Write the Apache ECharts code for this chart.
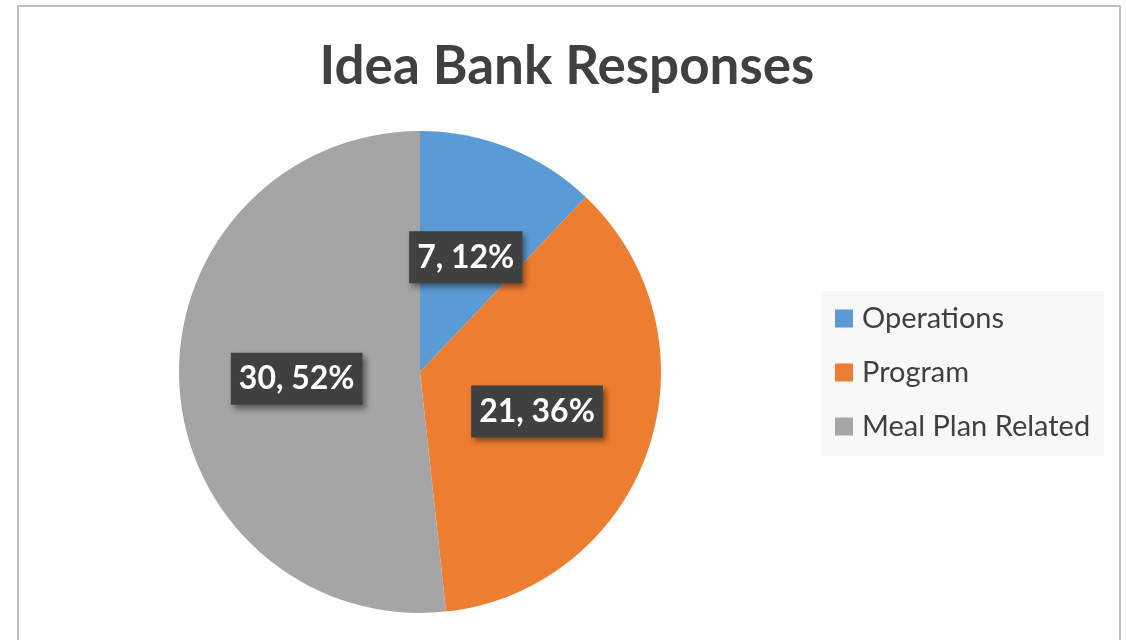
<!DOCTYPE html>
<html>
<head>
<meta charset="utf-8">
<script src="https://cdn.jsdelivr.net/npm/echarts@6/dist/echarts.min.js"></script>
<style>
html,body{margin:0;padding:0;background:#fff;}
#chart{width:1126px;height:640px;}
</style>
</head>
<body>
<div id="chart"></div>
<script>
const titleText = 'Idea Bank Responses';
const categories = ['Operations', 'Program', 'Meal Plan Related'];
const values = [7, 21, 30];
const colors = ['#5b9bd5', '#ed7d31', '#a5a5a5'];

const chart = echarts.init(document.getElementById('chart'), null, {renderer: 'canvas'});
const data = categories.map((c, i) => ({name: c, value: values[i], itemStyle: {color: colors[i]}}));

chart.setOption({
  animation: false,
  backgroundColor: '#ffffff',
  title: {
    text: titleText,
    left: 562,
    textAlign: 'center',
    top: 35,
    textStyle: {fontFamily: 'Lato', fontWeight: 'bold', fontSize: 53, color: '#404040'}
  },
  legend: {
    orient: 'vertical',
    left: 821,
    top: 291,
    padding: [13, 14, 15, 14],
    backgroundColor: '#f8f8f8',
    itemWidth: 18,
    itemHeight: 18,
    itemGap: 25,
    icon: 'rect',
    selectedMode: false,
    data: categories,
    textStyle: {fontFamily: 'Lato', fontSize: 29, lineHeight: 29, color: '#404040', padding: [0, 0, 0, 4]}
  },
  graphic: [{
    type: 'rect',
    shape: {x: 18, y: 6, width: 1102, height: 700},
    style: {fill: 'none', stroke: '#bfbfbf', lineWidth: 2},
    silent: true,
    z: -1
  }],
  series: [{
    type: 'pie',
    center: [420, 372],
    radius: 241,
    startAngle: 90,
    clockwise: true,
    percentPrecision: 0,
    silent: true,
    avoidLabelOverlap: false,
    itemStyle: {borderWidth: 0},
    labelLine: {show: false},
    label: {
      show: true,
      position: 'inside',
      formatter: '{c}, {d}%',
      fontFamily: 'Lato',
      fontWeight: 'bold',
      fontSize: 32,
      lineHeight: 34,
      color: '#ffffff',
      backgroundColor: '#404040',
      padding: [9, 8, 9, 8],
      shadowColor: 'rgba(0,0,0,0.45)',
      shadowBlur: 6,
      shadowOffsetX: 3,
      shadowOffsetY: 4
    },
    data: data
  }]
});
</script>
</body>
</html>
